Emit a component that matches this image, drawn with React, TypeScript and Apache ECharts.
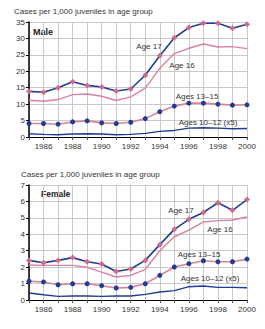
import React, { useEffect, useRef } from "react";
import * as echarts from "echarts";

const years = [1985, 1986, 1987, 1988, 1989, 1990, 1991, 1992, 1993, 1994, 1995, 1996, 1997, 1998, 1999, 2000];

// Male rates
const maleAge17 = [13.9, 13.6, 15.0, 16.8, 15.7, 15.2, 14.0, 14.6, 18.8, 24.7, 30.2, 33.3, 34.6, 34.6, 33.1, 34.3];
const maleAge16 = [11.2, 10.9, 11.4, 12.9, 13.1, 12.4, 11.1, 12.2, 14.9, 20.9, 25.4, 27.0, 28.3, 27.4, 27.5, 26.9];
const maleAge13to15 = [4.1, 4.1, 3.9, 4.6, 4.9, 4.3, 4.1, 4.5, 5.6, 7.7, 9.4, 10.3, 10.3, 10.0, 9.7, 9.8];
const maleAge10to12x5 = [1.0, 0.8, 0.7, 0.9, 1.0, 0.9, 0.7, 0.8, 1.1, 1.7, 2.0, 2.7, 2.8, 2.7, 2.5, 2.6];

// Female rates
const femaleAge17 = [2.41, 2.27, 2.41, 2.58, 2.33, 2.19, 1.74, 1.89, 2.41, 3.37, 4.3, 4.91, 5.33, 5.92, 5.46, 6.11];
const femaleAge16 = [2.13, 2.11, 2.11, 2.11, 1.99, 1.7, 1.4, 1.5, 1.87, 3.0, 3.85, 4.26, 4.75, 4.83, 4.87, 5.05];
const femaleAge13to15 = [1.14, 1.1, 0.93, 0.99, 0.99, 0.87, 0.73, 0.77, 0.99, 1.5, 2.01, 2.21, 2.39, 2.33, 2.33, 2.49];
const femaleAge10to12x5 = [0.43, 0.32, 0.22, 0.24, 0.24, 0.22, 0.24, 0.24, 0.34, 0.49, 0.57, 0.81, 0.85, 0.77, 0.77, 0.75];

const yAxisTitle = "Cases per 1,000 juveniles in age group";
const maleYMax = 35;
const maleYStep = 5;
const femaleYMax = 7;
const femaleYStep = 1;

const BLUE = "#1f3d96";
const PINK = "#d46a86";
const PINK_LINE = "#dc8297";
const GRID = "#c9c9c9";
const FONT = "Liberation Sans, Arial, sans-serif";

const pairs = (vals: number[]) => years.map((y, i) => [y, vals[i]]);

export default function App() {
  const ref = useRef<HTMLDivElement>(null);

  useEffect(() => {
    if (!ref.current) return;
    const chart = echarts.init(ref.current, undefined, { renderer: "svg" });

    const grids = [
      { left: 29, top: 22, width: 218, height: 115 },
      { left: 29, top: 185, width: 218, height: 115 },
    ];

    const xAxis = (gridIndex: number) => ({
      type: "value",
      gridIndex,
      min: 1985,
      max: 2000,
      interval: 1,
      axisLine: { show: true, onZero: false, lineStyle: { color: "#000", width: 1 } },
      axisTick: { show: true, length: 3, lineStyle: { color: "#555" } },
      axisLabel: {
        color: "#333",
        fontSize: 8,
        fontFamily: FONT,
        margin: 5,
        formatter: (v: number) => (v % 2 === 0 ? String(v) : ""),
      },
      splitLine: { show: true, lineStyle: { color: GRID, width: 1 } },
    });

    const yAxis = (gridIndex: number, max: number, interval: number) => ({
      type: "value",
      gridIndex,
      min: 0,
      max,
      interval,
      axisLine: { show: true, lineStyle: { color: "#000", width: 1.5 } },
      axisTick: { show: true, length: 3, lineStyle: { color: "#000" } },
      axisLabel: { color: "#333", fontSize: 8, fontFamily: FONT, margin: 4 },
      splitLine: { show: true, lineStyle: { color: GRID, width: 1 } },
    });

    const blueWithDiamonds = (data: number[], idx: number, name: string) => ({
      name,
      type: "line",
      xAxisIndex: idx,
      yAxisIndex: idx,
      data: pairs(data),
      lineStyle: { color: BLUE, width: 1.6 },
      itemStyle: { color: PINK },
      symbol: "diamond",
      symbolSize: 6,
      showSymbol: true,
      z: 4,
    });
    const plainLine = (data: number[], idx: number, color: string, name: string) => ({
      name,
      type: "line",
      xAxisIndex: idx,
      yAxisIndex: idx,
      data: pairs(data),
      lineStyle: { color, width: 1.4 },
      symbol: "none",
      z: 3,
    });
    const pinkWithDots = (data: number[], idx: number, name: string) => ({
      name,
      type: "line",
      xAxisIndex: idx,
      yAxisIndex: idx,
      data: pairs(data),
      lineStyle: { color: PINK_LINE, width: 1.6 },
      itemStyle: { color: BLUE },
      symbol: "circle",
      symbolSize: 5,
      showSymbol: true,
      z: 4,
    });

    const label = (text: string, x: number, y: number) => ({
      type: "text",
      x,
      y,
      style: {
        text,
        fill: "#333",
        font: `8px ${FONT}`,
        textAlign: "center",
        textVerticalAlign: "middle",
      },
      z: 10,
    });

    chart.setOption({
      animation: false,
      grid: grids,
      xAxis: [xAxis(0), xAxis(1)],
      yAxis: [yAxis(0, maleYMax, maleYStep), yAxis(1, femaleYMax, femaleYStep)],
      series: [
        plainLine(maleAge16, 0, PINK_LINE, "Age 16"),
        plainLine(maleAge10to12x5, 0, BLUE, "Ages 10–12 (x5)"),
        pinkWithDots(maleAge13to15, 0, "Ages 13–15"),
        blueWithDiamonds(maleAge17, 0, "Age 17"),
        plainLine(femaleAge16, 1, PINK_LINE, "Age 16"),
        plainLine(femaleAge10to12x5, 1, BLUE, "Ages 10–12 (x5)"),
        pinkWithDots(femaleAge13to15, 1, "Ages 13–15"),
        blueWithDiamonds(femaleAge17, 1, "Age 17"),
      ],
      graphic: [
        { type: "text", left: 14, top: 7, style: { text: yAxisTitle, fill: "#333", font: `8px ${FONT}` } },
        { type: "text", left: 21, top: 170, style: { text: yAxisTitle, fill: "#333", font: `8px ${FONT}` } },
        { type: "text", left: 33, top: 27, style: { text: "Male", fill: "#222", font: `bold 9px ${FONT}` } },
        { type: "text", left: 41, top: 189, style: { text: "Female", fill: "#222", font: `bold 8.5px ${FONT}` } },
        label("Age 17", 149, 46),
        label("Age 16", 182, 65),
        label("Ages 13–15", 197, 96),
        label("Ages 10–12 (x5)", 208, 122),
        label("Age 17", 181, 210),
        label("Age 16", 220, 229),
        label("Ages 13–15", 199, 254),
        label("Ages 10–12 (x5)", 210, 278),
      ],
    });

    return () => chart.dispose();
  }, []);

  return (
    <div
      ref={ref}
      style={{ position: "fixed", left: 0, top: 0, width: 265, height: 329, background: "#fff" }}
    />
  );
}
